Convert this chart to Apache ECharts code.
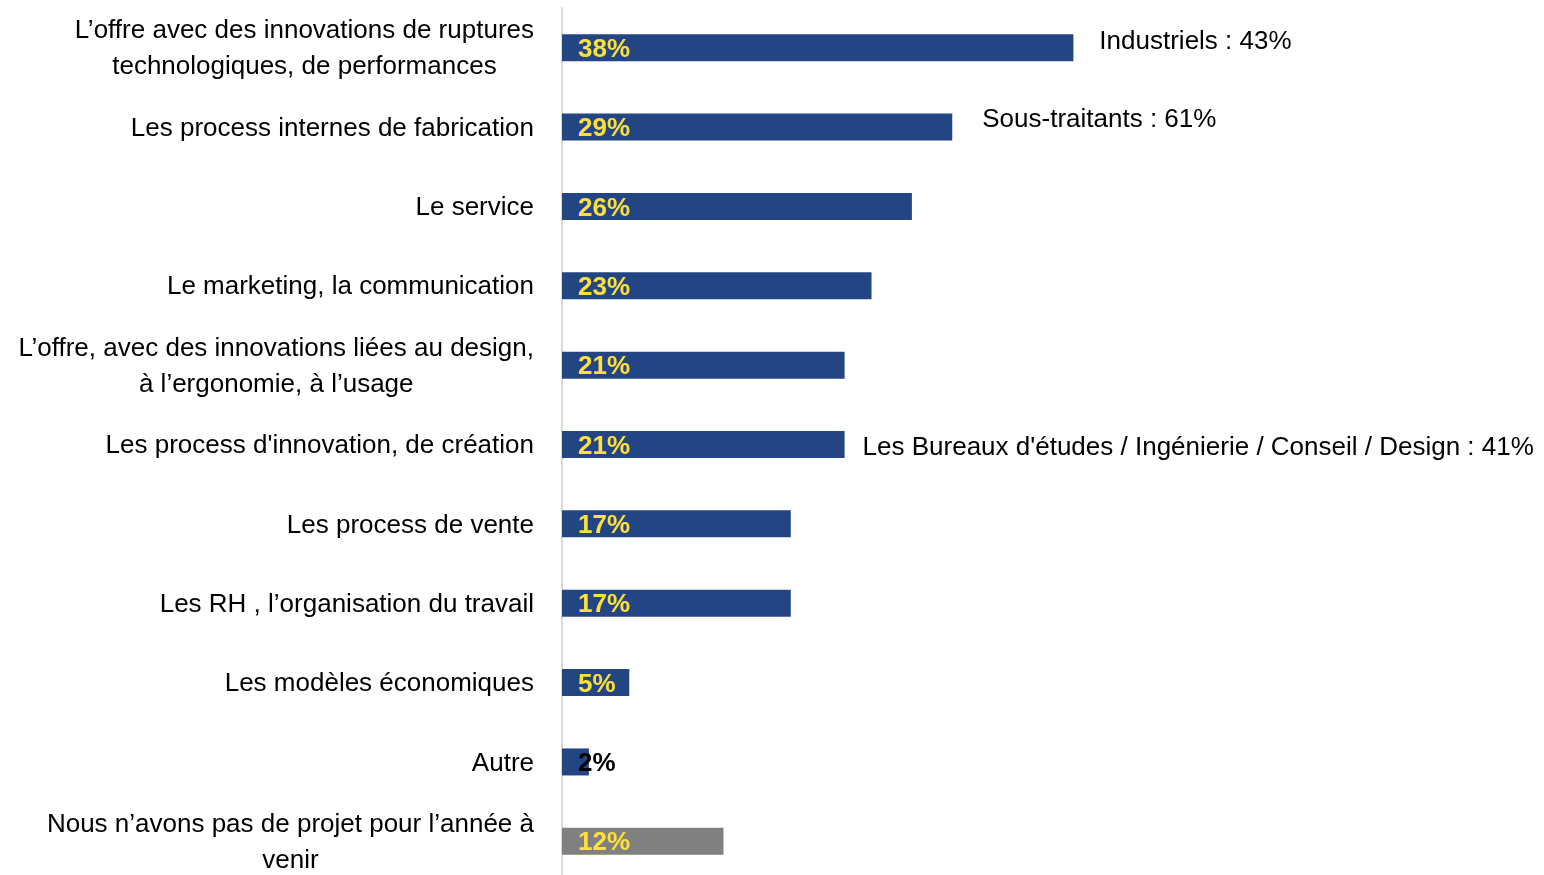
<!DOCTYPE html>
<html>
<head>
<meta charset="utf-8">
<script src="https://cdn.jsdelivr.net/npm/echarts@6.0.0/dist/echarts.min.js"></script>
<style>
  html, body { margin: 0; padding: 0; background: #fff; }
  #chart { width: 1544px; height: 875px; }
</style>
</head>
<body>
<div id="chart"></div>
<script>
// Categories (top to bottom)
const categories = [
  'L\u2019offre avec des innovations de ruptures\ntechnologiques, de performances',
  'Les process internes de fabrication',
  'Le service',
  'Le marketing, la communication',
  'L\u2019offre, avec des innovations liées au design,\nà l\u2019ergonomie, à l\u2019usage',
  'Les process d\'innovation, de création',
  'Les process de vente',
  'Les RH , l\u2019organisation du travail',
  'Les modèles économiques',
  'Autre',
  'Nous n\u2019avons pas de projet pour l\u2019année à\nvenir'
]
// Share of respondents, %
const values = [38, 29, 26, 23, 21, 21, 17, 17, 5, 2, 12]
// Side notes next to some bars
const annotations = [
  'Industriels : 43%',
  'Sous-traitants : 61%',
  '', '', '',
  'Les Bureaux d\'études / Ingénierie / Conseil / Design : 41%',
  '', '', '', '', ''
]

const FONT = '"Liberation Sans Narrow", "Liberation Sans", Arial, sans-serif'
const BLUE = '#234584'
const GREY = '#808080'
const YELLOW = '#FDE03A'

const noteOffsets = { 0: [0, -6], 1: [4, -7], 5: [-8, 3] }

const chart = echarts.init(document.getElementById('chart'))

chart.setOption({
  animation: false,
  backgroundColor: '#fff',
  grid: { left: 562, top: 8, width: 942, height: 873, outerBoundsMode: 'none', containLabel: false },
  xAxis: {
    type: 'value',
    min: 0,
    max: 70,
    show: false
  },
  yAxis: {
    type: 'category',
    inverse: true,
    data: categories,
    axisLine: { show: true, lineStyle: { color: '#D9D9D9', width: 2 } },
    axisTick: { show: false },
    axisLabel: {
      interval: 0,
      margin: 28,
      align: 'right',
      color: '#000',
      fontFamily: FONT,
      fontSize: 26,
      formatter: v => '{c|' + v + '}',
      rich: {
        c: { align: 'center', lineHeight: 36, padding: [3, 0, 0, 0], fontFamily: FONT, fontSize: 26, color: '#000' }
      }
    }
  },
  series: [
    {
      type: 'bar',
      barWidth: 27,
      data: values.map((v, i) => ({
        value: v,
        itemStyle: { color: i === values.length - 1 ? GREY : BLUE },
        label: { color: v < 4 ? '#000' : YELLOW }
      })),
      label: {
        show: true,
        position: 'insideLeft',
        distance: 16,
        offset: [0, 2],
        formatter: '{c}%',
        fontFamily: FONT,
        fontWeight: 'bold',
        fontSize: 26
      }
    },
    {
      type: 'bar',
      barWidth: 27,
      barGap: '-100%',
      silent: true,
      itemStyle: { color: 'transparent' },
      data: values.map((v, i) => ({
        value: v,
        label: {
          show: annotations[i] !== '',
          formatter: annotations[i],
          offset: noteOffsets[i] || [0, 0]
        }
      })),
      label: {
        position: 'right',
        distance: 26,
        color: '#000',
        fontFamily: FONT,
        fontSize: 26
      }
    }
  ]
})
</script>
</body>
</html>
